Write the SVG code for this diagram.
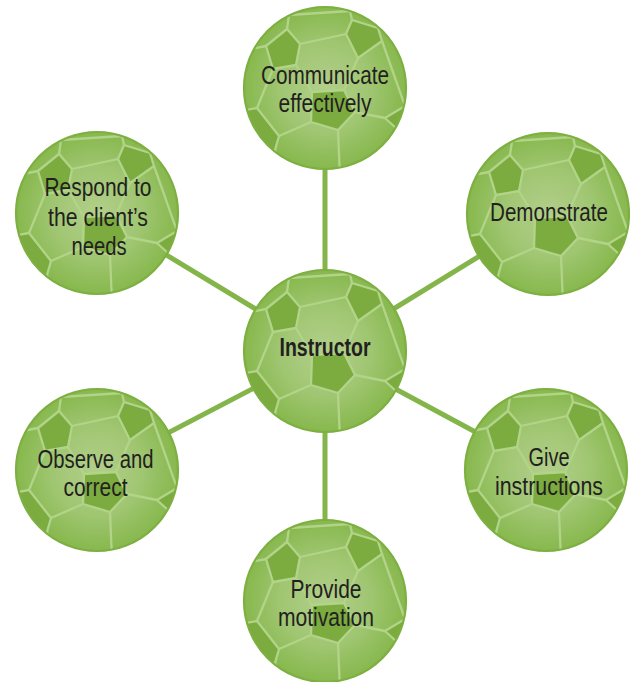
<svg xmlns="http://www.w3.org/2000/svg" xmlns:xlink="http://www.w3.org/1999/xlink" width="630" height="682" viewBox="0 0 630 682">
  <style>
    .link { stroke: #84b54a; stroke-width: 5; fill: none; }
    .lbl { font-family: "Liberation Sans", Arial, sans-serif; font-size: 25px; fill: #231f20; text-anchor: middle; }
    .bold { font-weight: bold; }
    .seam { fill: none; stroke: #b2d489; stroke-width: 2.3; stroke-linejoin: round; }
    .patch { fill: #7cab40; stroke: #b2d489; stroke-width: 2.3; stroke-linejoin: round; }
  </style>
  <defs>
    <radialGradient id="panelShade" cx="0.5" cy="0.5" r="0.5">
      <stop offset="0" stop-color="#b2cf8a"/>
      <stop offset="0.55" stop-color="#a0c672"/>
      <stop offset="1" stop-color="#87b84d"/>
    </radialGradient>
    <clipPath id="ballClip">
      <circle cx="0" cy="0" r="81"/>
    </clipPath>
    <!-- one soccer ball, centred on the origin -->
    <g id="ball">
      <circle cx="0" cy="0" r="81" fill="url(#panelShade)"/>
      <g clip-path="url(#ballClip)">
        <polygon class="patch" points="-59,-42 -38,-59 -25,-44 -29,-23 -52,-19"/>
        <polygon class="patch" points="21,-54 27,-68 53,-60 57,-47 33,-30"/>
        <polygon class="patch" points="-13,4 19,2 30,24 13,42 -14,34"/>
        <polygon class="patch" points="-68,20 -46,48 -50,62 -75,80 -95,25"/>
        <polygon class="patch" points="60,30 80,18 100,24 100,60 72,41"/>
        <path class="seam" d="M-38,-59 L-36,-73 L-46,-84 M-36,-73 L25,-77 L32,-86 M27,-68 L25,-77
                              M53,-60 L62,-64
                              M-59,-42 L-90,-36
                              M-52,-19 L-68,20
                              M-25,-44 L21,-54 M-29,-23 L-13,4 M33,-30 L19,2
                              M57,-47 L80,18 M30,24 L60,30
                              M-14,34 L-46,48
                              M13,42 L15,90 M-50,62 L-40,90
                              M72,41 L62,82"/>
      </g>
      <circle cx="0" cy="0" r="81" fill="none" stroke="#7daf41" stroke-width="2.2"/>
    </g>
  </defs>

  <!-- spokes from the hub to each skill -->
  <g id="connectors">
    <line class="link" x1="325" y1="351" x2="325" y2="88"/>
    <line class="link" x1="325" y1="351" x2="97" y2="213"/>
    <line class="link" x1="325" y1="351" x2="548" y2="214"/>
    <line class="link" x1="325" y1="351" x2="546" y2="470"/>
    <line class="link" x1="325" y1="351" x2="97" y2="470"/>
    <line class="link" x1="325" y1="351" x2="325" y2="601"/>
  </g>

  <g id="node-communicate">
    <use xlink:href="#ball" x="325" y="88"/>
    <text class="lbl" x="325" y="84" textLength="128" lengthAdjust="spacingAndGlyphs">Communicate</text>
    <text class="lbl" x="325" y="112" textLength="93" lengthAdjust="spacingAndGlyphs">effectively</text>
  </g>

  <g id="node-respond">
    <use xlink:href="#ball" x="97" y="213"/>
    <text class="lbl" x="98" y="196" textLength="107" lengthAdjust="spacingAndGlyphs">Respond to</text>
    <text class="lbl" x="98" y="226" textLength="100" lengthAdjust="spacingAndGlyphs">the client’s</text>
    <text class="lbl" x="99" y="255" textLength="55" lengthAdjust="spacingAndGlyphs">needs</text>
  </g>

  <g id="node-demonstrate">
    <use xlink:href="#ball" x="548" y="214"/>
    <text class="lbl" x="549" y="221" textLength="118" lengthAdjust="spacingAndGlyphs">Demonstrate</text>
  </g>

  <g id="node-instructor">
    <use xlink:href="#ball" x="325" y="351"/>
    <text class="lbl bold" x="325" y="356" textLength="91" lengthAdjust="spacingAndGlyphs">Instructor</text>
  </g>

  <g id="node-observe">
    <use xlink:href="#ball" x="97" y="470"/>
    <text class="lbl" x="95.5" y="468" textLength="116" lengthAdjust="spacingAndGlyphs">Observe and</text>
    <text class="lbl" x="95.5" y="496" textLength="64" lengthAdjust="spacingAndGlyphs">correct</text>
  </g>

  <g id="node-give">
    <use xlink:href="#ball" x="546" y="470"/>
    <text class="lbl" x="549" y="466" textLength="41" lengthAdjust="spacingAndGlyphs">Give</text>
    <text class="lbl" x="549" y="495" textLength="108" lengthAdjust="spacingAndGlyphs">instructions</text>
  </g>

  <g id="node-provide">
    <use xlink:href="#ball" x="325" y="601"/>
    <text class="lbl" x="326" y="598" textLength="71" lengthAdjust="spacingAndGlyphs">Provide</text>
    <text class="lbl" x="326" y="626" textLength="96" lengthAdjust="spacingAndGlyphs">motivation</text>
  </g>
</svg>
